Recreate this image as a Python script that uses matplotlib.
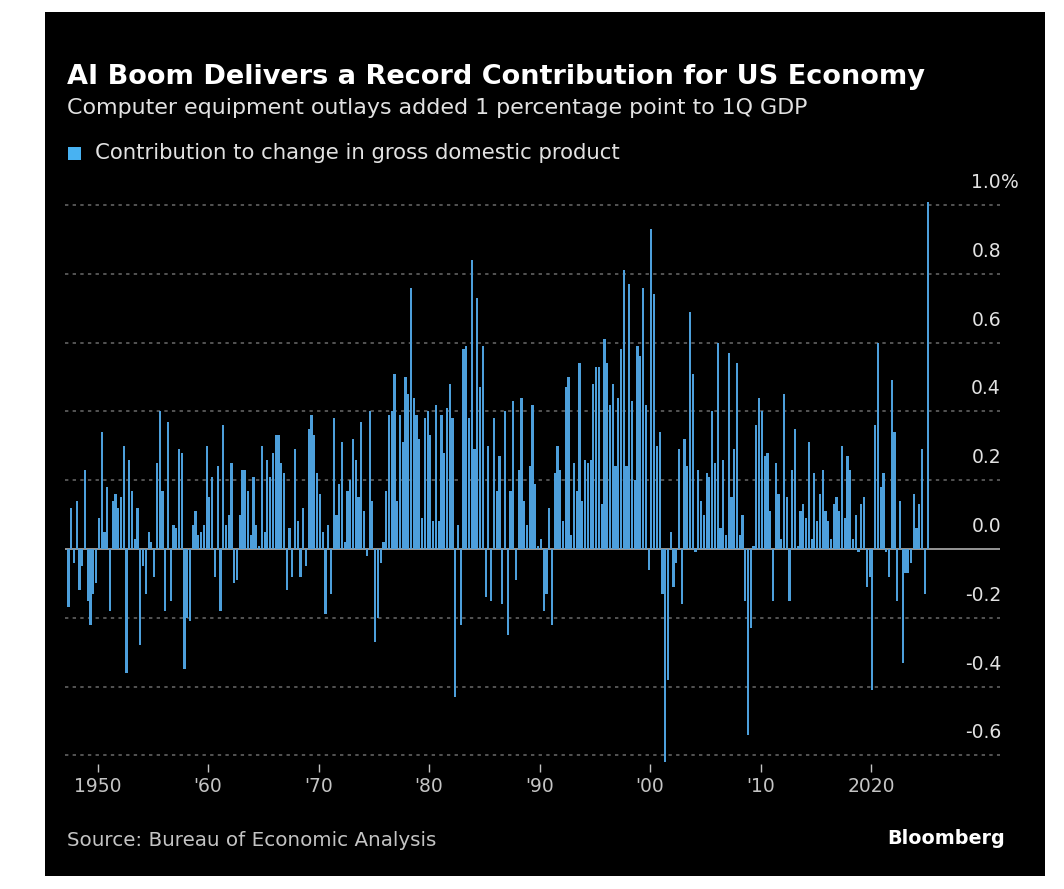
import matplotlib
matplotlib.use("Agg")
import matplotlib.pyplot as plt
from matplotlib.patches import Rectangle

W, H = 1064, 889

# Quarterly contribution of computer equipment to GDP change, percentage points.
# Series starts 1947 Q2; each list holds consecutive quarters.
first_quarter = (1947, 2)
vals_1940s = [-0.17, 0.12, -0.04,
              0.14, -0.12, -0.05, 0.23,
              -0.15, -0.22, -0.13, -0.10]
vals_1950s = [0.09, 0.34, 0.05, 0.18,
              -0.18, 0.14, 0.16, 0.12,
              0.15, 0.30, -0.36, 0.26,
              0.17, 0.03, 0.12, -0.28,
              -0.05, -0.13, 0.05, 0.02,
              -0.08, 0.25, 0.40, 0.17,
              -0.18, 0.37, -0.15, 0.07,
              0.06, 0.29, 0.28, -0.35,
              -0.20, -0.21, 0.07, 0.11,
              0.04, 0.05, 0.07, 0.30]
vals_1960s = [0.15, 0.21, -0.08, 0.24,
              -0.18, 0.36, 0.07, 0.10,
              0.25, -0.10, -0.09, 0.10,
              0.23, 0.23, 0.17, 0.04,
              0.21, 0.07, 0.01, 0.30,
              0.05, 0.26, 0.21, 0.28,
              0.33, 0.33, 0.25, 0.22,
              -0.12, 0.06, -0.08, 0.29,
              0.08, -0.08, 0.12, -0.05,
              0.35, 0.39, 0.33, 0.22]
vals_1970s = [0.16, 0.05, -0.19, 0.07,
              -0.13, 0.38, 0.10, 0.19,
              0.31, 0.02, 0.17, 0.20,
              0.32, 0.26, 0.15, 0.37,
              0.11, -0.02, 0.40, 0.14,
              -0.27, -0.20, -0.04, 0.02,
              0.17, 0.39, 0.40, 0.51,
              0.14, 0.39, 0.31, 0.50,
              0.45, 0.76, 0.44, 0.39,
              0.32, 0.09, 0.38, 0.40]
vals_1980s = [0.33, 0.08, 0.42, 0.08,
              0.39, 0.28, 0.41, 0.48,
              0.38, -0.43, 0.07, -0.22,
              0.58, 0.59, 0.38, 0.84,
              0.29, 0.73, 0.47, 0.59,
              -0.14, 0.30, -0.15, 0.38,
              0.17, 0.27, -0.16, 0.40,
              -0.25, 0.17, 0.43, -0.09,
              0.23, 0.44, 0.14, 0.07,
              0.24, 0.42, 0.19, 0.01]
vals_1990s = [0.03, -0.18, -0.13, 0.12,
              -0.22, 0.22, 0.30, 0.23,
              0.08, 0.47, 0.50, 0.04,
              0.25, 0.17, 0.54, 0.14,
              0.26, 0.25, 0.26, 0.48,
              0.53, 0.53, 0.13, 0.61,
              0.54, 0.42, 0.48, 0.24,
              0.44, 0.58, 0.81, 0.24,
              0.77, 0.43, 0.20, 0.59,
              0.56, 0.76, 0.42, -0.06]
vals_2000s = [0.93, 0.74, 0.30, 0.34,
              -0.13, -0.62, -0.38, 0.05,
              -0.11, -0.04, 0.29, -0.16,
              0.32, 0.24, 0.69, 0.51,
              -0.01, 0.23, 0.14, 0.10,
              0.22, 0.21, 0.40, 0.25,
              0.60, 0.06, 0.26, 0.04,
              0.57, 0.15, 0.29, 0.54,
              0.04, 0.10, -0.15, -0.54,
              -0.23, 0.01, 0.36, 0.44]
vals_2010s = [0.40, 0.27, 0.28, 0.11,
              -0.15, 0.25, 0.16, 0.03,
              0.45, 0.15, -0.15, 0.23,
              0.35, 0.01, 0.11, 0.13,
              0.09, 0.31, 0.03, 0.22,
              0.08, 0.16, 0.23, 0.11,
              0.08, 0.03, 0.13, 0.15,
              0.11, 0.30, 0.09, 0.27,
              0.23, 0.03, 0.10, -0.01,
              0.13, 0.15, -0.11, -0.08]
vals_2020s = [-0.41, 0.36, 0.60, 0.18,
              0.22, -0.01, -0.08, 0.49,
              0.34, -0.15, 0.14, -0.33,
              -0.07, -0.07, -0.04, 0.16,
              0.06, 0.13, 0.29, -0.13,
              1.01]

tick_years = [1950, 1960, 1970, 1980, 1990, 2000, 2010, 2020]
tick_labels = ["1950", "'60", "'70", "'80", "'90", "'00", "'10", "2020"]
y_ticks = [1.0, 0.8, 0.6, 0.4, 0.2, 0.0, -0.2, -0.4, -0.6]

title = "AI Boom Delivers a Record Contribution for US Economy"
subtitle = "Computer equipment outlays added 1 percentage point to 1Q GDP"
legend_label = "Contribution to change in gross domestic product"
source = "Source: Bureau of Economic Analysis"
brand = "Bloomberg"

values = (vals_1940s + vals_1950s + vals_1960s + vals_1970s + vals_1980s
          + vals_1990s + vals_2000s + vals_2010s + vals_2020s)
y0, q0 = first_quarter
positions = [y0 + (q0 - 1 + i) / 4 + 0.125 for i in range(len(values))]

BAR = "#4d9fdb"
GRID = "#6a6a6a"
TEXT = "#e2e2e2"
MUTED = "#c4c4c4"

plt.rcParams["font.family"] = ["DejaVu Sans"]
fig = plt.figure(figsize=(W / 100, H / 100), dpi=100, facecolor="white")

# black card behind the whole graphic
fig.patches.append(Rectangle((45 / W, 1 - 876 / H), 1000 / W, 864 / H,
                             transform=fig.transFigure, facecolor="black",
                             edgecolor="none", zorder=-5))

# plot area in pixel terms: x from 65 to 1000, y limits mapped to 0 at 549 px
ax_left, ax_right = 65, 1000
ylo, yhi = -0.625, 1.02
px_per_unit = 344
top_px = 549 - yhi * px_per_unit
bot_px = 549 - ylo * px_per_unit
ax = fig.add_axes([ax_left / W, 1 - bot_px / H,
                   (ax_right - ax_left) / W, (bot_px - top_px) / H])
ax.set_facecolor("none")
ax.set_zorder(1)
px_per_year = 11.05
x_min = 1950 + (ax_left - 97.5) / px_per_year
x_max = 1950 + (ax_right - 97.5) / px_per_year
ax.set_xlim(x_min, x_max)
ax.set_ylim(ylo, yhi)

for v in y_ticks:
    if v == 0:
        ax.axhline(0, color="#b0b0b0", lw=1.2, zorder=1)
    else:
        ax.axhline(v, color=GRID, lw=1.1, ls=(0, (2.2, 2.8)), zorder=1)

ax.bar(positions, values, width=0.2, color=BAR, edgecolor="none",
       zorder=2)

for s in ax.spines.values():
    s.set_visible(False)
ax.set_yticks([])
ax.set_xticks(tick_years)
ax.set_xticklabels(tick_labels)
ax.tick_params(axis="x", colors=MUTED, labelcolor=MUTED, labelsize=13.5,
               length=6, width=1, direction="out", pad=3)

# y labels sit above their gridlines at the right edge
label_x = 1001 / W
for v in y_ticks:
    ypx = 549 - v * px_per_unit - 13
    txt = f"{v:.1f}"
    fig.text(label_x, 1 - ypx / H, txt, color=TEXT, fontsize=13.5,
             ha="right", va="bottom")
    if v == 1.0:
        fig.text(label_x, 1 - ypx / H, "%", color=TEXT, fontsize=13.5,
                 ha="left", va="bottom")

fig.text(67 / W, 1 - 77 / H, title, color="white", fontsize=19.5,
         fontweight="bold", ha="left", va="center")
fig.text(67 / W, 1 - 108 / H, subtitle, color=TEXT, fontsize=15.9,
         ha="left", va="center")
fig.patches.append(Rectangle((68 / W, 1 - 160 / H), 13 / W, 13 / H,
                             transform=fig.transFigure, facecolor="#48b2f2",
                             edgecolor="none", zorder=3))
fig.text(95 / W, 1 - 153 / H, legend_label, color=TEXT, fontsize=15.3,
         ha="left", va="center")
fig.text(67 / W, 1 - 841 / H, source, color=MUTED, fontsize=14.3,
         ha="left", va="center")
fig.text(1005 / W, 1 - 838 / H, brand, color="white", fontsize=13.8,
         fontweight="bold", ha="right", va="center")

fig.savefig("out.png", dpi=100, facecolor=fig.get_facecolor())
